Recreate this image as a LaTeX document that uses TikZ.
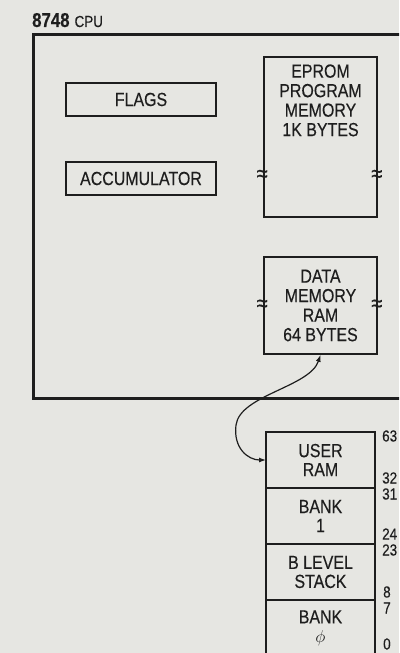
\documentclass[tikz,border=0pt]{standalone}
\usepackage{fontspec}
\setmainfont[FakeStretch=0.84,FakeBold=0.3]{Liberation Sans}
\usetikzlibrary{positioning,arrows.meta}
\definecolor{paperGray}{HTML}{E6E6E2}
\definecolor{inkBlack}{HTML}{1E1E1E}

\begin{document}
\begin{tikzpicture}[
    x=1pt, y=-1pt,
    every node/.style={text=inkBlack},
    regbox/.style={
        draw=inkBlack,
        line width=1.6pt,
        minimum width=150pt,
        minimum height=33pt,
        inner sep=0pt,
        font=\fontsize{19}{19.5}\selectfont
    },
    membox/.style={
        draw=inkBlack,
        line width=1.6pt,
        minimum width=113pt,
        inner sep=0pt
    },
    memtext/.style={
        align=center,
        inner sep=0pt,
        font=\fontsize{19}{19.5}\selectfont
    },
    stackrow/.style={
        draw=inkBlack,
        line width=1.6pt,
        minimum width=109pt,
        minimum height=56pt,
        inner sep=0pt,
        outer sep=0pt,
        align=center,
        font=\fontsize{19}{19}\selectfont
    },
    addr/.style={
        anchor=west,
        inner sep=0pt,
        font=\fontsize{16}{16}\selectfont
    },
    brk/.style={
        inner sep=0pt,
        font=\fontsize{24}{24}\selectfont
    },
    link/.style={
        {Latex[length=7pt,width=5pt]}-{Latex[length=7pt,width=5pt]},
        line width=1.2pt,
        draw=inkBlack
    }
]
\useasboundingbox (0,0) rectangle (399,653);
\clip (0,0) rectangle (399,653);
\fill[paperGray] (0,0) rectangle (399,653);

% processor outline and title
\node[draw=inkBlack, line width=2.6pt, minimum width=400pt, minimum height=364pt,
      inner sep=0pt, anchor=north west] (cpu) at (32,33) {};
\node[anchor=base west, inner sep=0pt, font=\fontsize{20}{20}\selectfont] (title) at (32,27)
    {\textbf{8748}\hspace{5pt}{\fontsize{16}{16}\selectfont CPU}};

% registers
\node[regbox] (flags) at (141,99.5) {FLAGS};
\node[regbox] (acc) at (141,178.5) {ACCUMULATOR};

% memories
\node[membox, minimum height=160pt] (eprom) at (320.5,137) {};
\node[memtext, below=8pt of eprom.north] (epromtext) {EPROM\\PROGRAM\\MEMORY\\1K BYTES};
\node[brk] (eb1) at ([yshift=42pt,xshift=-1pt]eprom.south west) {≈};
\node[brk] (eb2) at ([yshift=42pt,xshift=-1pt]eprom.south east) {≈};

\node[membox, minimum height=97pt, memtext] (dmem) at (320.5,305.5) {DATA\\MEMORY\\RAM\\64 BYTES};
\node[brk] (db1) at ([xshift=-1pt]dmem.west) {≈};
\node[brk] (db2) at ([xshift=-1pt]dmem.east) {≈};

% data memory map
\node[stackrow] (user) at (320.5,460) {USER\\RAM};
\node[stackrow, below=0pt of user] (bank1) {BANK\\1};
\node[stackrow, below=0pt of bank1] (stack) {B LEVEL\\STACK};
\node[stackrow, below=0pt of stack] (bank0) {BANK\\$\phi$};

\node[addr] (a63) at (382,436) {63};
\node[addr] (a32) at (382,478) {32};
\node[addr] (a31) at (382,494) {31};
\node[addr] (a24) at (382,534) {24};
\node[addr] (a23) at (382,550) {23};
\node[addr] (a8) at (383,592) {8};
\node[addr] (a7) at (383,608) {7};
\node[addr] (a0) at (383,644) {0};

\draw[link] (dmem.south) .. controls (310,387) and (240,395) .. (236,425)
    .. controls (233,448) and (248,460) .. (user.west);
\end{tikzpicture}
\end{document}
